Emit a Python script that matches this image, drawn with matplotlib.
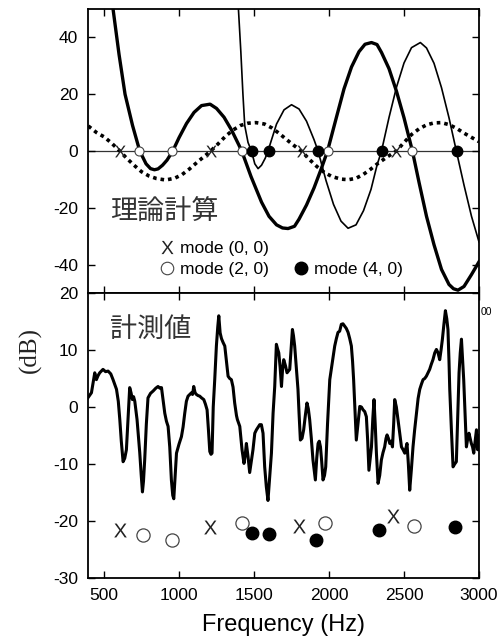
import numpy as np
import matplotlib
matplotlib.use("Agg")
import matplotlib.pyplot as plt
from matplotlib.lines import Line2D

plt.rcParams['font.family'] = ['Liberation Sans', 'Noto Sans CJK JP', 'DejaVu Sans']
plt.rcParams['mathtext.fontset'] = 'custom'
plt.rcParams['mathtext.sf'] = 'Liberation Sans'
plt.rcParams['axes.unicode_minus'] = False

# theory: thick solid curve (mode 2,0)
thick_f = [540, 560, 600, 640, 690, 738, 780, 810, 836, 860, 890, 920, 958, 1000, 1050,
           1100, 1150, 1207, 1250, 1300, 1350, 1400, 1418, 1480, 1550, 1600, 1650, 1690,
           1727, 1770, 1800, 1850, 1900, 1950, 1990, 2050, 2100, 2150, 2200, 2240, 2283,
           2320, 2350, 2400, 2450, 2500, 2556, 2600, 2650, 2700, 2750, 2800, 2830, 2860,
           2900, 2950, 3000]
thick_db = [58, 50, 34, 20, 9, 0, -4.5, -6.2, -6.6, -6.3, -5, -3.2, 0, 4.7, 9.7,
            13.6, 16, 16.5, 15, 11.9, 7.4, 2, 0, -9, -18, -23, -26, -27.1,
            -27.3, -26.5, -24, -19, -13, -6, 0, 12, 21.9, 29.6, 35, 37.6, 38.2,
            37.5, 34.7, 29, 21, 11.7, 0, -11, -23, -33, -41.7, -47, -48.5, -49,
            -47.7, -43.5, -39]

# theory: thin solid curve (mode 4,0)
thin_f = [1380, 1396, 1412, 1426, 1438, 1460, 1483, 1505, 1527, 1550, 1575, 1593, 1650,
          1700, 1750, 1800, 1850, 1900, 1927, 1980, 2030, 2080, 2127, 2180, 2230, 2280,
          2320, 2350, 2400, 2450, 2500, 2550, 2609, 2650, 2700, 2750, 2800, 2849, 2900,
          2950, 3000]
thin_db = [62, 50, 35, 20, 9, 3, 0, -4.5, -6.2, -5, -2.5, 0, 9.5,
           14.5, 16.3, 14.8, 10.5, 4, 0, -10.4, -18.8, -24.7, -27.2, -26, -21, -13.5,
           -5, 0, 11.8, 22.5, 31, 36.4, 38.2, 36.3, 30.9, 22.3, 11.7, 0, -12,
           -23, -32]

# theory: dotted curve (mode 0,0)
dot_f = [395, 450, 500, 550, 605, 650, 700, 750, 800, 850, 910, 970, 1020, 1070, 1120,
         1170, 1211, 1260, 1310, 1360, 1410, 1460, 1513, 1570, 1620, 1670, 1720, 1770,
         1816, 1870, 1920, 1970, 2020, 2080, 2130, 2180, 2230, 2280, 2330, 2390, 2449,
         2500, 2550, 2600, 2650, 2700, 2749, 2800, 2850, 2900, 2950, 3000]
dot_db = [8.8, 6.5, 5, 2.8, 0, -2.5, -5, -7.3, -8.8, -9.7, -10.2, -9.6, -8.3, -6.3, -4,
          -1.8, 0, 2.5, 5.2, 7.4, 9, 9.8, 10, 9.5, 8.1, 6.1, 3.9, 1.8,
          0, -3, -5.5, -7.6, -9, -9.9, -10.1, -9.6, -8.2, -6.3, -4.2, -2, 0,
          3, 5.8, 7.8, 9.2, 9.9, 10, 9.3, 8, 6.3, 4.8, 3.3]

# theory mode frequencies (on the 0 dB line)
th00_f = [606, 1212, 1818, 2449]
th00_db = [0, 0, 0, 0]
th20_f = [735, 955, 1418, 1990, 2553]
th20_db = [0, 0, 0, 0, 0]
th40_f = [1485, 1597, 1928, 2350, 2850]
th40_db = [0, 0, 0, 0, 0]

# measured response
meas_f = [392, 416, 438, 449, 460, 471, 493, 510, 527, 545, 560, 583, 595, 605, 615, 627,
          638, 649, 660, 671, 680, 689, 697, 705, 720, 738, 748, 756, 763, 771, 782, 793,
          810, 827, 845, 860, 872, 883, 895, 905, 916, 927, 938, 949, 958, 965, 972, 983,
          1000, 1016, 1027, 1038, 1049, 1060, 1072, 1083, 1090, 1098, 1107, 1116, 1127,
          1138, 1150, 1165, 1176, 1187, 1196, 1205, 1213, 1220, 1228, 1238, 1249, 1258,
          1265, 1274, 1283, 1294, 1305, 1316, 1327, 1338, 1349, 1360, 1371, 1383, 1389,
          1405, 1420, 1433, 1441, 1449, 1460, 1471, 1482, 1493, 1505, 1516, 1538, 1549,
          1560, 1571, 1582, 1593, 1604, 1616, 1627, 1638, 1649, 1657, 1665, 1674, 1683,
          1690, 1698, 1710, 1720, 1738, 1747, 1756, 1763, 1771, 1782, 1793, 1800, 1809,
          1820, 1831, 1842, 1853, 1862, 1871, 1882, 1893, 1909, 1918, 1927, 1935, 1943,
          1951, 1960, 1970, 1978, 1990, 2005, 2020, 2038, 2049, 2060, 2071, 2082, 2093,
          2104, 2115, 2127, 2138, 2149, 2157, 2164, 2173, 2182, 2193, 2205, 2216, 2227,
          2238, 2249, 2258, 2266, 2275, 2283, 2292, 2300, 2308, 2316, 2327, 2338, 2349,
          2360, 2371, 2380, 2387, 2396, 2405, 2414, 2423, 2431, 2438, 2449, 2460, 2471,
          2483, 2494, 2505, 2520, 2529, 2538, 2549, 2560, 2571, 2583, 2594, 2605, 2616,
          2627, 2638, 2649, 2660, 2671, 2682, 2693, 2705, 2716, 2727, 2738, 2747, 2756,
          2766, 2776, 2785, 2793, 2800, 2805, 2816, 2827, 2838, 2849, 2858, 2867, 2875,
          2883, 2890, 2898, 2907, 2916, 2925, 2933, 2941, 2949, 2957, 2965, 2974, 2983,
          2991, 3000]
meas_db = [1.6, 2.5, 6.0, 4.8, 5.5, 6.0, 6.6, 6.2, 6.3, 5.8, 4.8, 3.1, 1.0, -2.2, -6, -9.6,
           -9.0, -7.5, -2, 3.4, 2.5, 1.3, 1.8, 1.0, -2.2, -8, -12, -14.9, -13, -9.3, -3, 1.6,
           2.4, 2.8, 3.3, 3.6, 3.3, 3.4, 1, -1.1, -2.5, -3.4, -7, -12.8, -15.5, -16.1, -13, -8.1,
           -6.5, -5.2, -3.5, -1.1, 1, 1.9, 2.2, 2.5, 2.2, 3.6, 2.5, 2.2, 2.0,
           1.9, 1.6, 1.3, 0.5, -0.5, -4, -7.8, -8.3, -8.1, 0, 4.8, 10.7, 14,
           16.0, 13, 12.0, 11.3, 10.7, 8, 5.4, 5.0, 4.8, 3.5, 0.7, -1.5, -2.2,
           -3.4, -7.5, -9.9, -8.5, -6.4, -8.7, -11.5, -9.5, -7.5, -4.6, -4.0, -3.1, -3.1,
           -4.6, -10.5, -14, -16.4, -12.5, -8.1, -1.1, 3.6, 11, 10.2, 9.5, 7, 3.6,
           6.5, 8.3, 7.2, 6, 6.6, 10, 13.6, 12.5, 10.7, 7, 3.1, -1, -5.8,
           -5.5, -4.0, -1.5, 0.7, -0.3, -2.2, -5.5, -9.3, -12.8, -9, -6.4, -6, -7.0,
           -9.5, -12.8, -12, -10.5, -3, 4.8, 7.5, 10.7, 12, 13.1, 13.3, 14.5, 14.6,
           14.2, 13.8, 13.1, 12, 10.7, 8, 4.8, -0.5, -5.8, -3, 0.1, 0, -0.5,
           -0.8, -1.7, -6, -11.1, -9, -7.0, -2, 1.3, -3, -8.1, -13.4, -12, -9.3,
           -8, -7.0, -5.5, -4.9, -5.5, -6.4, -6, -7.0, -3, 1.3, 0, -2.2, -4.5,
           -7.0, -7.5, -8.1, -6.4, -10, -14.6, -11, -7.0, -4, -1.1, 1.5, 3.1, 4,
           4.8, 5, 5.4, 6, 6.6, 7.5, 8.3, 9.5, 10.1, 9.5, 8.3, 10, 11.9,
           14.5, 16.9, 15.5, 13.6, 8, 3.1, -4, -10.5, -10, -9.6, -2, 6, 9.5,
           11.9, 8.5, 4.8, -1, -7.0, -5.5, -4.6, -5.5, -6.4, -7, -8.1, -6, -4.0,
           -7.5, -5]

# measured mode positions
ms00_f = [609, 1205, 1800, 2427]
ms00_db = [-21.6, -21.1, -20.8, -19.1]
ms20_f = [760, 953, 1420, 1971, 2567]
ms20_db = [-22.5, -23.4, -20.4, -20.4, -20.8]
ms40_f = [1489, 1598, 1911, 2333, 2843]
ms40_db = [-22.1, -22.2, -23.4, -21.5, -21.1]

xmark = r'$\mathsf{X}$'

fig = plt.figure(figsize=(5, 6.41), dpi=100)
ax1 = fig.add_axes([0.176, 0.5429, 0.782, 0.443])
ax2 = fig.add_axes([0.176, 0.0983, 0.782, 0.4446])

for ax in (ax1, ax2):
    ax.set_xlim(393, 3000)
    ax.set_xticks([500, 1000, 1500, 2000, 2500, 3000])
    ax.tick_params(direction='in', top=True, right=True, length=5, width=1,
                   pad=7, labelsize=12.5)
    for s in ax.spines.values():
        s.set_linewidth(1.3)

# top panel: theory
ax1.axhline(0, color='#333333', lw=0.9, zorder=1)
ax1.plot(dot_f, dot_db, color='black', lw=2.6, linestyle=(0, (1, 1.1)), zorder=2)
ax1.plot(thick_f, thick_db, color='black', lw=2.4, zorder=2)
ax1.plot(thin_f, thin_db, color='black', lw=1.2, zorder=2)
ax1.plot(th00_f, th00_db, linestyle='none', marker=xmark, color='#222222',
         mew=0, markersize=8.5, zorder=3)
ax1.plot(th20_f, th20_db, linestyle='none', marker='o', mfc='white', mec='#444444',
         mew=0.8, markersize=6.5, zorder=3)
ax1.plot(th40_f, th40_db, linestyle='none', marker='o', color='black',
         markersize=7.5, zorder=3)
ax1.set_ylim(-50, 50)
ax1.set_yticks([-40, -20, 0, 20, 40])
ax1.tick_params(labelbottom=False)
ax1.text(0.056, 0.285, '理論計算', transform=ax1.transAxes, fontsize=19.5,
         family=['Noto Sans CJK JP'], va='center', ha='left', color='#333333')

blank = Line2D([], [], linestyle='none')
hl = [Line2D([], [], linestyle='none', marker=xmark, color='#222222', mew=0,
             markersize=9.5),
      Line2D([], [], linestyle='none', marker='o', mfc='white', mec='#444444', mew=0.8,
             markersize=9),
      blank,
      Line2D([], [], linestyle='none', marker='o', color='black', markersize=9)]
ax1.legend(hl, ['mode (0, 0)', 'mode (2, 0)', '', 'mode (4, 0)'], ncol=2,
           loc='upper left', bbox_to_anchor=(0.185, 0.185), frameon=False,
           fontsize=12.5, handlelength=0.8, handletextpad=0.35, labelspacing=0.35,
           columnspacing=1.45, borderpad=0, borderaxespad=0)

# bottom panel: measurement
ax2.plot(meas_f, meas_db, color='black', lw=2.2, zorder=2)
ax2.plot(ms00_f, ms00_db, linestyle='none', marker=xmark, color='#222222',
         mew=0, markersize=10, zorder=3)
ax2.plot(ms20_f, ms20_db, linestyle='none', marker='o', mfc='white', mec='#444444',
         mew=0.9, markersize=9.5, zorder=3)
ax2.plot(ms40_f, ms40_db, linestyle='none', marker='o', color='black',
         markersize=9, zorder=3)
ax2.set_ylim(-30, 20)
ax2.set_yticks([-30, -20, -10, 0, 10, 20])
ax2.text(0.056, 0.874, '計測値', transform=ax2.transAxes, fontsize=19.5,
         family=['Noto Sans CJK JP'], va='center', ha='left', color='#333333')
ax2.set_xlabel('Frequency (Hz)', fontsize=17, labelpad=8)

fig.text(0.06, 1 - 350 / 641, '(dB)', rotation=90, fontsize=18,
         family=['Liberation Serif'], ha='center', va='center', color='#222222')
fig.text(0.962, 1 - 312 / 641, '00', fontsize=7.5, ha='left', va='center')

fig.savefig('out.png', dpi=100)
